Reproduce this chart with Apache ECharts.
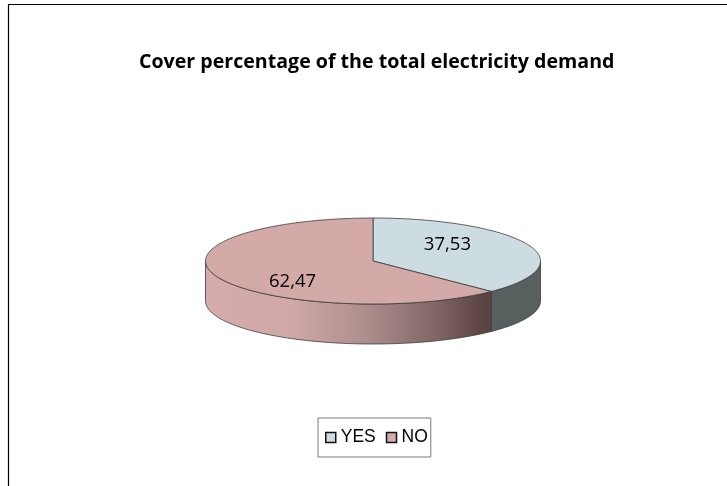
<!DOCTYPE html>
<html>
<head>
<meta charset="utf-8">
<title>Cover percentage of the total electricity demand</title>
<script src="https://cdn.jsdelivr.net/npm/echarts@6/dist/echarts.min.js"></script>
<style>
  html, body { margin: 0; padding: 0; background: #fff; }
  #chart { width: 727px; height: 486px; }
</style>
</head>
<body>
<div id="chart"></div>
<script>
// Share of the total electricity demand that is covered
const categories = ['YES', 'NO'];
const values = [37.53, 62.47];

// Appearance of each slice: top face, side wall
const topColors = ['#CCDCE1', '#D4AAA9'];
const sideColors = [
  '#57605F',
  [[0, '#D5ACAB'], [0.3, '#D0A8A7'], [0.56, '#AD8E8D'], [0.79, '#846968'], [0.96, '#5E4644'], [1, '#5A4240']]
];

// Tilted pie geometry (pixels)
const CX = 373, CY = 261, RX = 167.5, RY = 43, DEPTH = 40;
const total = values.reduce((a, b) => a + b, 0);

function ellipsePoint(deg, dy) {
  const r = deg * Math.PI / 180;
  return [CX + RX * Math.sin(r), CY - RY * Math.cos(r) + dy];
}

function arc(from, to, dy) {
  const pts = [];
  const steps = Math.max(2, Math.ceil(Math.abs(to - from)));
  for (let k = 0; k <= steps; k++) {
    pts.push(ellipsePoint(from + (to - from) * k / steps, dy));
  }
  return pts;
}

function fmt(v) {
  return v.toFixed(2).replace('.', ',');
}

function makeRenderer(idx) {
  return function (params, api) {
    const value = api.value(0);
    let before = 0;
    for (let j = 0; j < idx; j++) before += values[j];
    const a0 = before / total * 360;
    const a1 = a0 + value / total * 360;
    const children = [];

    // visible part of the outer wall (front half of the cylinder)
    const s0 = Math.max(a0, 90), s1 = Math.min(a1, 270);
    if (s1 > s0) {
      const wall = arc(s0, s1, 0).concat(arc(s1, s0, DEPTH));
      const sc = sideColors[idx];
      const fill = Array.isArray(sc)
        ? new echarts.graphic.LinearGradient(0, 0, 1, 0, sc.map(s => ({ offset: s[0], color: s[1] })))
        : sc;
      children.push({
        type: 'polygon',
        shape: { points: wall },
        style: { fill: fill, stroke: '#3a3a3a', lineWidth: 0.8 }
      });
    }

    // top face
    const top = [[CX, CY]].concat(arc(a0, a1, 0));
    children.push({
      type: 'polygon',
      shape: { points: top },
      style: { fill: topColors[idx], stroke: '#3a3a3a', lineWidth: 0.8 }
    });

    // value label
    const mid = (a0 + a1) / 2 * Math.PI / 180;
    children.push({
      type: 'text',
      style: {
        text: fmt(value),
        x: CX - 3 + 0.5 * RX * Math.sin(mid),
        y: CY + 2.5 - 1.128 * RY * Math.cos(mid),
        align: 'center',
        verticalAlign: 'middle',
        fontFamily: 'Open Sans',
        fontSize: 18.5,
        fill: '#000'
      }
    });

    return { type: 'group', children: children };
  };
}

const chart = echarts.init(document.getElementById('chart'), null, { renderer: 'canvas' });

chart.setOption({
  animation: false,
  backgroundColor: '#fff',
  title: {
    text: 'Cover percentage of the total electricity demand',
    left: 139,
    top: 50,
    padding: 0,
    textStyle: {
      fontFamily: 'Open Sans',
      fontWeight: 'bold',
      fontSize: 19.6,
      lineHeight: 24,
      color: '#000'
    }
  },
  legend: {
    left: 318,
    top: 418,
    orient: 'horizontal',
    padding: [10, 3, 10, 7],
    itemGap: 10,
    itemWidth: 10,
    itemHeight: 10,
    icon: 'rect',
    borderColor: '#7a7a7a',
    borderWidth: 1,
    selectedMode: false,
    textStyle: {
      fontFamily: 'Liberation Sans',
      fontSize: 17.5,
      lineHeight: 19,
      color: '#000'
    },
    data: categories.map((c, i) => ({
      name: c,
      itemStyle: { color: topColors[i], borderColor: '#111', borderWidth: 1.5 }
    }))
  },
  graphic: [{
    type: 'polyline',
    shape: { points: [[8.5, 486], [8.5, 4.5], [727, 4.5]] },
    style: { stroke: '#000', lineWidth: 1.2, fill: null },
    silent: true
  }],
  series: categories.map((c, i) => ({
    name: c,
    type: 'custom',
    coordinateSystem: 'none',
    itemStyle: { color: topColors[i] },
    data: [values[i]],
    renderItem: makeRenderer(i)
  }))
});
</script>
</body>
</html>
